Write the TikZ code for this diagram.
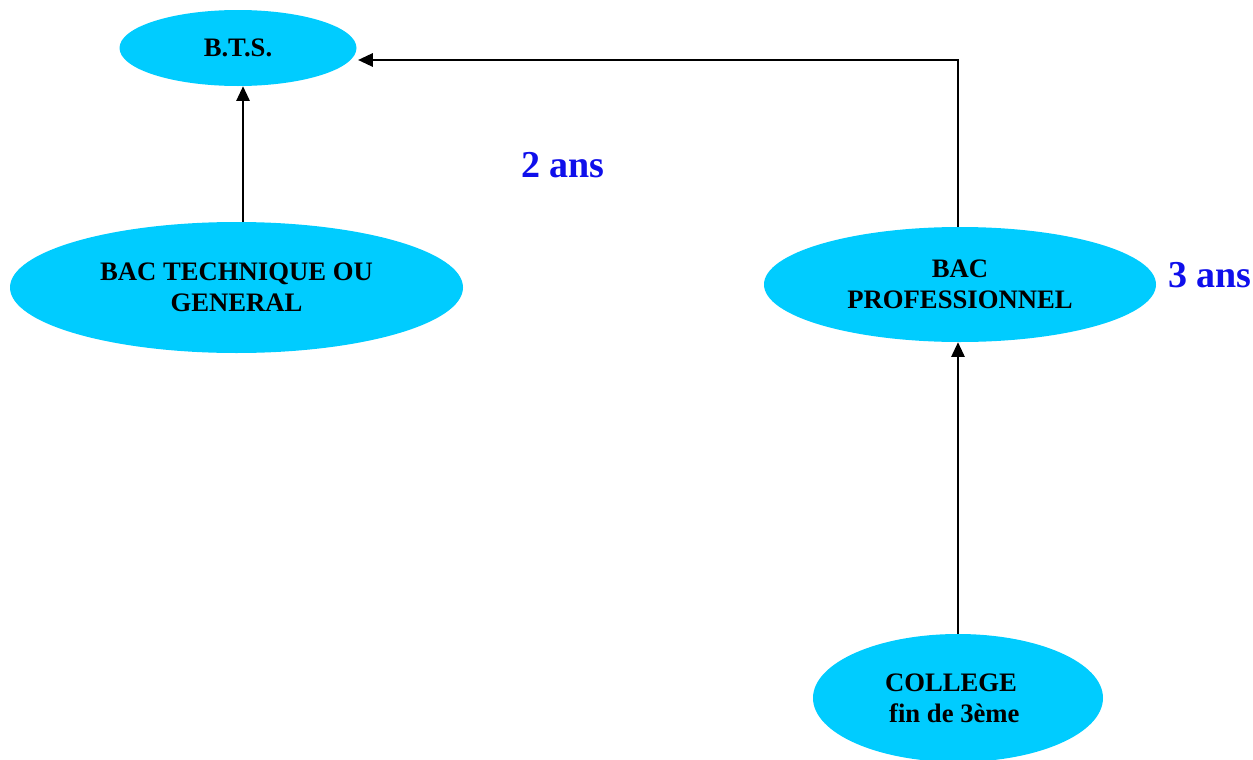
\documentclass[tikz,border=0pt]{standalone}
\usepackage{fontspec}
\setmainfont{Liberation Serif}
\usetikzlibrary{shapes.geometric,arrows.meta}
\definecolor{cyanfill}{RGB}{0,204,255}
\definecolor{labblue}{RGB}{15,15,235}
\tikzset{
  oval/.style={ellipse, fill=cyanfill, draw=none, inner sep=0pt, align=center,
    font=\fontsize{20}{23}\selectfont\bfseries},
  arr/.style={line width=1.3pt, -{Triangle[length=11pt,width=10pt]}},
  dur/.style={text=labblue, font=\fontsize{28.5}{31}\selectfont\bfseries, inner sep=0pt}
}
\begin{document}
\begin{tikzpicture}[x=0.75pt,y=-0.75pt]
\useasboundingbox (0,0) rectangle (1253,760);
\begin{scope}
\clip (0,0) rectangle (1253,760);
\node[oval, minimum width=237*0.75pt, minimum height=76*0.75pt] (bts) at (238,48) {B.T.S.};
\node[oval, minimum width=453*0.75pt, minimum height=131*0.75pt] (tech) at (236.5,287.5) {BAC TECHNIQUE OU\\GENERAL};
\node[oval, minimum width=392*0.75pt, minimum height=115*0.75pt] (pro) at (960,284.5) {BAC\\PROFESSIONNEL};
\node[oval, minimum width=290*0.75pt, minimum height=128*0.75pt] (col) at (958,698) {COLLEGE\hspace*{10.5pt}\\\ fin de 3ème\hspace*{10.5pt}};
\end{scope}
\node[dur] (d2) at (563,165) {2 ans};
\node[dur] (d3) at (1210,275) {3 ans};
\draw[arr] ([xshift=4.9pt]tech.north) -- ([xshift=4.9pt]tech.north |- bts.south);
\draw[arr] ([xshift=-1.5pt]pro.north) |- ([xshift=1pt,yshift=-9pt]bts.east);
\draw[arr] (col.north) -- (col.north |- pro.south);
\end{tikzpicture}
\end{document}
